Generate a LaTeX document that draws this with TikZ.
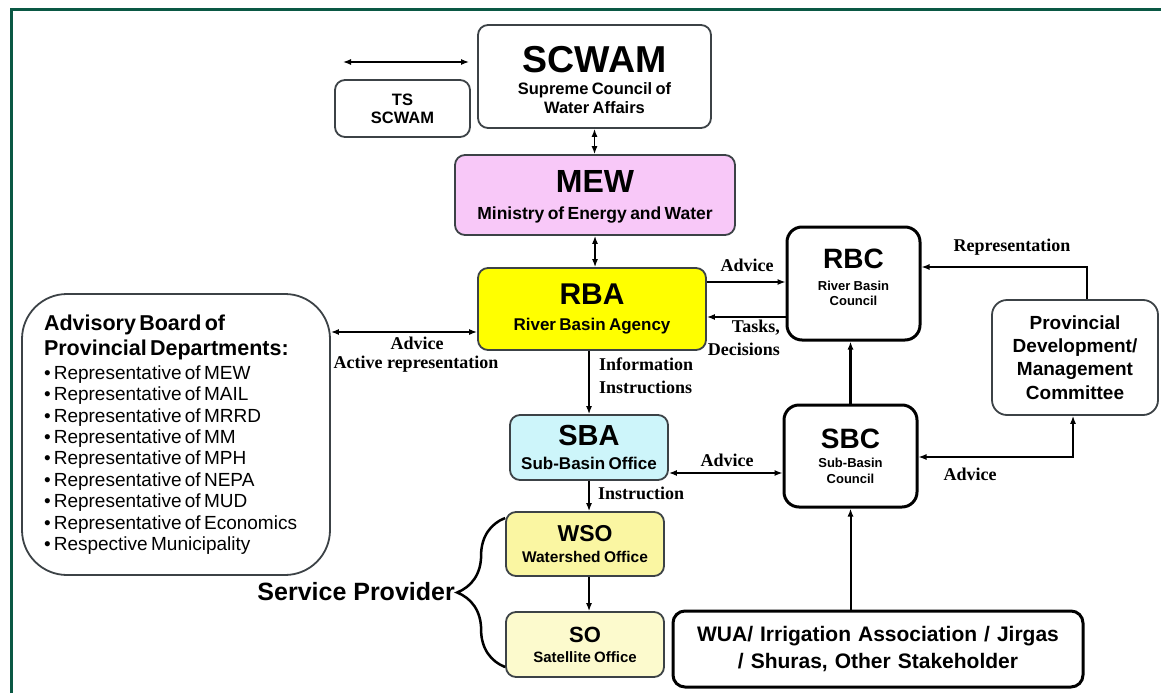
\documentclass[tikz,border=0pt]{standalone}
\usepackage{fontspec}
\setmainfont{Liberation Sans}
\newfontfamily\lblfont{Liberation Serif}
\usetikzlibrary{arrows.meta,decorations.pathreplacing}

\definecolor{framegreen}{RGB}{10,88,68}
\definecolor{mewpink}{RGB}{248,200,248}
\definecolor{rbayellow}{RGB}{255,255,0}
\definecolor{sbacyan}{RGB}{205,245,250}
\definecolor{wsoyellow}{RGB}{250,246,162}
\definecolor{soyellow}{RGB}{252,250,205}
\definecolor{inkgray}{RGB}{60,66,70}

% title + subtitle inside a box
\newcommand{\boxtxt}[5]{{\fontsize{#1}{#1}\selectfont\bfseries #2\par}\vspace{#4pt}%
  {\fontsize{#3}{#3}\selectfont\bfseries\baselineskip=\dimexpr #3pt*120/100\relax #5\par}}
% move the text of a box down / up
\newcommand{\pushdown}[1]{\hrule height0pt width0pt\vspace{#1pt}}
\newcommand{\pushup}[1]{\par\vspace{#1pt}\hrule height0pt width0pt}

\begin{document}
\begin{tikzpicture}[x=1pt,y=-1pt,>={Latex[length=8pt,width=6pt]}]
        \tikzstyle{box}=[rectangle, draw=inkgray, line width=1.8pt, rounded corners=10pt, inner xsep=2pt, inner ysep=0pt, align=center]
        \tikzstyle{council}=[box, draw=black, line width=3pt, rounded corners=15pt]
        \tikzstyle{lbl}=[font=\lblfont\bfseries\fontsize{18}{23}\selectfont, inner sep=1pt]
        \tikzstyle{conn}=[line width=1.3pt]
        \useasboundingbox (0,0) rectangle (1161,693);
        \draw[framegreen, line width=3pt] (11,693) -- (11,9.5) -- (1161,9.5);

        % boxes
        \node[box, minimum width=233pt, minimum height=103pt, text width=229pt] (scwam) at (594.5,76.5) {\pushdown{7}\boxtxt{37.5}{SCWAM}{16.5}{2}{Supreme Council of\\Water Affairs}};
        \node[box, minimum width=135pt, minimum height=57pt, text width=131pt, font=\bfseries\fontsize{16.5}{18}\selectfont] (ts) at (402.5,108.5) {TS\\SCWAM};
        \node[box, fill=mewpink, minimum width=280pt, minimum height=80pt, text width=276pt] (mew) at (595,195) {\pushdown{4}\boxtxt{32}{MEW}{17.5}{6}{Ministry of Energy and Water}};
        \node[box, fill=rbayellow, minimum width=228pt, minimum height=82pt, text width=224pt] (rba) at (592,309) {\boxtxt{30}{RBA}{17}{5}{River Basin Agency}};
        \node[council, minimum width=133pt, minimum height=113pt, text width=129pt] (rbc) at (853.5,283.5) {\boxtxt{28}{RBC}{13}{6}{River Basin\\Council}\pushup{12}};
        \node[box, rounded corners=15pt, minimum width=166pt, minimum height=115pt, text width=162pt, font=\bfseries\fontsize{19}{23.3}\selectfont] (pdmc) at (1075,357.5) {Provincial\\Development/\\Management\\Committee};
        \node[council, minimum width=133pt, minimum height=102pt, text width=129pt] (sbc) at (850.5,456) {\boxtxt{28}{SBC}{13}{4}{Sub-Basin\\Council}};
        \node[box, fill=sbacyan, minimum width=158pt, minimum height=65pt, text width=154pt] (sba) at (589,447.5) {\boxtxt{29}{SBA}{17}{3}{Sub-Basin Office}};
        \node[box, fill=wsoyellow, minimum width=158pt, minimum height=64pt, text width=154pt] (wso) at (585,544) {\boxtxt{23}{WSO}{15.5}{2.5}{Watershed Office}};
        \node[box, fill=soyellow, minimum width=158pt, minimum height=65pt, text width=154pt] (so) at (585,644.5) {\boxtxt{22}{SO}{15}{2}{Satellite Office}};
        \node[council, rounded corners=12pt, minimum width=410pt, minimum height=76pt, text width=406pt, font=\bfseries\fontsize{21}{27}\selectfont] (wua) at (878,649) {WUA/ Irrigation Association / Jirgas\\/ Shuras, Other Stakeholder};
        \node[box, rounded corners=45pt, minimum width=308pt, minimum height=281pt, text width=264pt, inner xsep=22pt, align=left] (board) at (176,434.5) {%
            {\fontsize{21.5}{25}\selectfont\bfseries Advisory Board of\\Provincial Departments:\par}\vspace{2.6pt}%
            {\fontsize{19}{21.4}\selectfont
            \textbullet\,Representative of MEW\\
            \textbullet\,Representative of MAIL\\
            \textbullet\,Representative of MRRD\\
            \textbullet\,Representative of MM\\
            \textbullet\,Representative of MPH\\
            \textbullet\,Representative of NEPA\\
            \textbullet\,Representative of MUD\\
            \textbullet\,Representative of Economics\\
            \textbullet\,Respective Municipality\par}};

        % connectors
        \coordinate (tsl) at (343,62);
        \coordinate (tsr) at (469,62);
        \draw[conn,<->] (tsl) -- (tsr);
        \draw[conn,<->] (scwam.south) -- (scwam.south |- mew.north);
        \draw[conn,<->] (mew.south) -- (mew.south |- rba.north);
        \draw[conn,->] (rba.east |- 0,282) -- (rbc.west |- 0,282);
        \draw[conn,->] (rbc.west |- 0,317) -- (rba.east |- 0,317);
        \draw[conn,->] ([xshift=12pt]pdmc.north) |- (rbc.east |- 0,267);
        \draw[conn,->] (sba.north |- rba.south) -- (sba.north);
        \draw[conn,<->] (sba.east |- 0,473) -- (sbc.west |- 0,473);
        \draw[conn,->] (sba.south) -- (sba.south |- wso.north);
        \draw[conn,->] (sba.south |- wso.south) -- (sba.south |- so.north);
        \draw[line width=2.5pt,->] (sbc.north) -- (sbc.north |- rbc.south);
        \draw[conn,<->] (sbc.east |- 0,457) -| ([xshift=-2pt]pdmc.south);
        \draw[line width=2pt,->] (sbc.south |- wua.north) -- (sbc.south);
        \draw[conn,<->] (board.east |- 0,332) -- (rba.west |- 0,332);
        \draw[line width=2.5pt, decorate, decoration={brace, amplitude=48pt}] (so.west |- 0,667) -- (wso.west |- 0,518);

        % labels
        \node[lbl] (advrbc) at (747,265) {Advice};
        \node[lbl, align=right, anchor=north east] (tasks) at (781,319) {Tasks,\\Decisions};
        \node[lbl] (repr) at (1012,247) {Representation};
        \node[lbl] (advpdmc) at (970,474) {Advice};
        \node[lbl, align=left, anchor=north west] (info) at (598,357) {Information\\Instructions};
        \node[lbl] (advsbc) at (727,460) {Advice};
        \node[lbl, anchor=west] (instr) at (597,493) {Instruction};
        \node[lbl] (advboard) at (417,343) {Advice};
        \node[lbl] (active) at (416,364) {Active representation};
        \node[font=\bfseries\fontsize{25}{27}\selectfont, anchor=east, inner sep=1pt] (sp) at (456,592) {Service Provider};
\end{tikzpicture}
\end{document}
